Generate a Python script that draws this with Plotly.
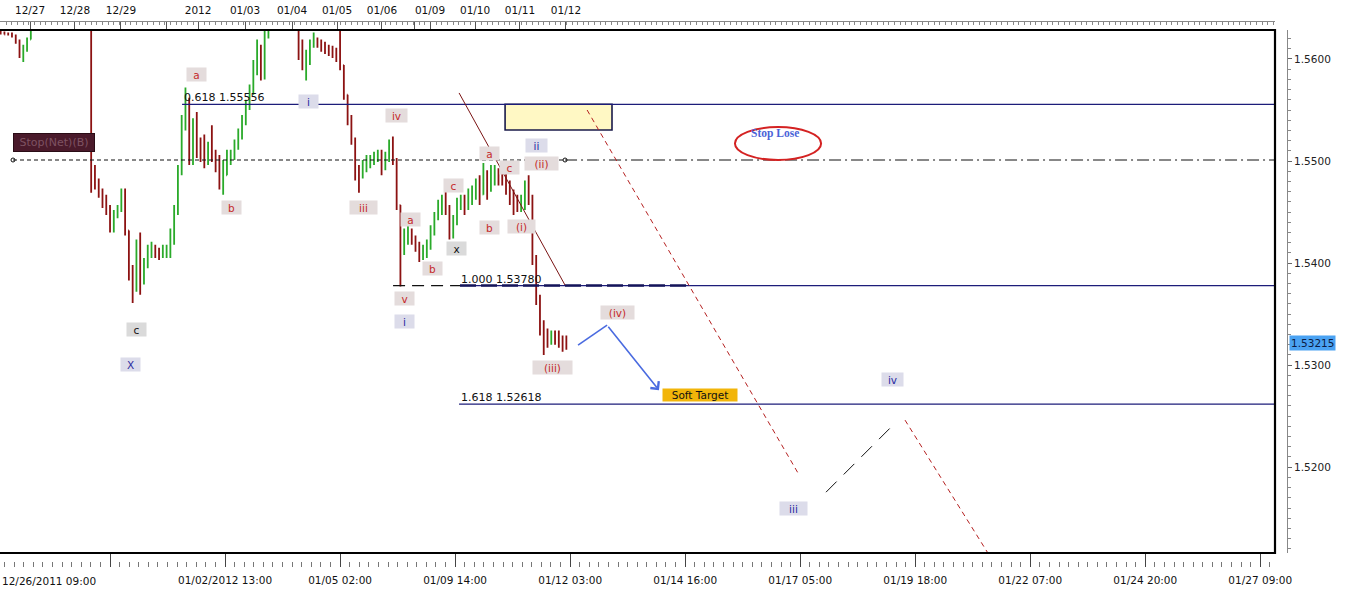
import plotly.graph_objects as go

# ---------------- price data (GBP/USD, 2-hour bars, hours since 12/26/2011 09:00, weekends skipped) ----------------
bar_hours = list(range(3, 305, 2))

highs = [
    1.5628, 1.5627, 1.5626, 1.5626, 1.5624, 1.5619, 1.5614, 1.5621, 1.5633, 1.5640,
    1.5645, 1.5650, 1.5655, 1.5660, 1.5652, 1.5650, 1.5658, 1.5662, 1.5656, 1.5650,
    1.5648, 1.5652, 1.5654, 1.5646, 1.5640, 1.5496, 1.5483, 1.5473, 1.5467, 1.5457,
    1.5452, 1.5457, 1.5473, 1.5473, 1.5432, 1.5398, 1.5423, 1.5430, 1.5405, 1.5418,
    1.5421, 1.5418, 1.5415, 1.5418, 1.5418, 1.5434, 1.5457, 1.5496, 1.5545, 1.5572,
    1.5562, 1.5542, 1.5548, 1.5523, 1.5526, 1.5519, 1.5535, 1.5511, 1.5506, 1.5501,
    1.5511, 1.5511, 1.5521, 1.5532, 1.5545, 1.5560, 1.5575, 1.5599, 1.5619, 1.5614,
    1.5628, 1.5640, 1.5652, 1.5662, 1.5672, 1.5668, 1.5660, 1.5652, 1.5645, 1.5638,
    1.5619, 1.5609, 1.5619, 1.5626, 1.5621, 1.5619, 1.5617, 1.5614, 1.5613, 1.5611,
    1.5628, 1.5594, 1.5565, 1.5545, 1.5523, 1.5496, 1.5501, 1.5506, 1.5506, 1.5509,
    1.5511, 1.5511, 1.5509, 1.5521, 1.5524, 1.5503, 1.5457, 1.5434, 1.5437, 1.5434,
    1.5427, 1.5421, 1.5418, 1.5423, 1.5437, 1.5450, 1.5462, 1.5467, 1.5470, 1.5457,
    1.5447, 1.5464, 1.5467, 1.5467, 1.5473, 1.5476, 1.5483, 1.5486, 1.5498, 1.5491,
    1.5496, 1.5496, 1.5493, 1.5491, 1.5489, 1.5481, 1.5472, 1.5467, 1.5467, 1.5481,
    1.5486, 1.5467, 1.5408, 1.5369, 1.5344, 1.5336, 1.5334, 1.5334, 1.5334, 1.5329,
    1.5329,
]
lows = [
    1.5624, 1.5624, 1.5623, 1.5621, 1.5615, 1.5601, 1.5597, 1.5607, 1.5619, 1.5628,
    1.5632, 1.5638, 1.5640, 1.5645, 1.5638, 1.5636, 1.5642, 1.5648, 1.5640, 1.5636,
    1.5634, 1.5638, 1.5640, 1.5634, 1.5469, 1.5472, 1.5464, 1.5454, 1.5447, 1.5430,
    1.5430, 1.5444, 1.5450, 1.5427, 1.5383, 1.5361, 1.5372, 1.5369, 1.5379, 1.5395,
    1.5405, 1.5405, 1.5403, 1.5405, 1.5405, 1.5405, 1.5418, 1.5447, 1.5486, 1.5530,
    1.5496, 1.5496, 1.5503, 1.5499, 1.5493, 1.5496, 1.5499, 1.5489, 1.5472, 1.5467,
    1.5486, 1.5496, 1.5501, 1.5511, 1.5521, 1.5535, 1.5550, 1.5565, 1.5584, 1.5579,
    1.5580, 1.5620, 1.5632, 1.5644, 1.5652, 1.5650, 1.5642, 1.5636, 1.5630, 1.5599,
    1.5589, 1.5579, 1.5594, 1.5611, 1.5611, 1.5607, 1.5605, 1.5603, 1.5601, 1.5597,
    1.5589, 1.5560, 1.5535, 1.5516, 1.5481, 1.5469, 1.5483, 1.5489, 1.5493, 1.5496,
    1.5499, 1.5486, 1.5491, 1.5499, 1.5496, 1.5452, 1.5377, 1.5408, 1.5418, 1.5418,
    1.5411, 1.5401, 1.5403, 1.5405, 1.5413, 1.5427, 1.5442, 1.5447, 1.5447, 1.5423,
    1.5424, 1.5437, 1.5452, 1.5447, 1.5452, 1.5457, 1.5462, 1.5457, 1.5467, 1.5462,
    1.5470, 1.5476, 1.5476, 1.5476, 1.5467, 1.5457, 1.5447, 1.5450, 1.5450, 1.5452,
    1.5457, 1.5398, 1.5359, 1.5329, 1.5310, 1.5317, 1.5320, 1.5320, 1.5317, 1.5313,
    1.5315,
]
closes = [
    1.5625, 1.5624, 1.5624, 1.5623, 1.5617, 1.5604, 1.5609, 1.5619, 1.5631, 1.5636,
    1.5642, 1.5646, 1.5652, 1.5648, 1.5644, 1.5647, 1.5655, 1.5650, 1.5645, 1.5640,
    1.5644, 1.5648, 1.5642, 1.5638, 1.5481, 1.5479, 1.5470, 1.5457, 1.5450, 1.5434,
    1.5447, 1.5452, 1.5467, 1.5432, 1.5393, 1.5379, 1.5415, 1.5383, 1.5401, 1.5413,
    1.5413, 1.5411, 1.5408, 1.5413, 1.5413, 1.5424, 1.5450, 1.5489, 1.5535, 1.5555,
    1.5506, 1.5526, 1.5511, 1.5506, 1.5501, 1.5511, 1.5506, 1.5496, 1.5479, 1.5486,
    1.5503, 1.5506, 1.5516, 1.5526, 1.5540, 1.5555, 1.5570, 1.5589, 1.5604, 1.5584,
    1.5624, 1.5636, 1.5648, 1.5658, 1.5665, 1.5655, 1.5648, 1.5640, 1.5634, 1.5604,
    1.5594, 1.5599, 1.5614, 1.5619, 1.5614, 1.5611, 1.5609, 1.5607, 1.5604, 1.5601,
    1.5594, 1.5565, 1.5542, 1.5521, 1.5489, 1.5486, 1.5493, 1.5496, 1.5501, 1.5503,
    1.5504, 1.5496, 1.5503, 1.5511, 1.5501, 1.5457, 1.5423, 1.5427, 1.5430, 1.5423,
    1.5418, 1.5408, 1.5411, 1.5418, 1.5432, 1.5444, 1.5457, 1.5462, 1.5452, 1.5432,
    1.5442, 1.5457, 1.5462, 1.5457, 1.5467, 1.5470, 1.5473, 1.5467, 1.5481, 1.5476,
    1.5486, 1.5486, 1.5483, 1.5481, 1.5473, 1.5464, 1.5457, 1.5457, 1.5460, 1.5472,
    1.5464, 1.5403, 1.5364, 1.5339, 1.5325, 1.5325, 1.5329, 1.5327, 1.5325, 1.5323,
    1.53215,
]
first_open = 1.5626
opens = [first_open] + closes[:-1]
last_price = 1.53215

# ---------------- axis labels ----------------
bottom_tick_hours = [0, 61, 122, 183, 244, 305, 366, 427, 488, 549, 610, 671]
bottom_tick_labels = ["", "", "01/02/2012 13:00", "01/05 02:00", "01/09 14:00", "01/12 03:00",
                      "01/14 16:00", "01/17 05:00", "01/19 18:00", "01/22 07:00", "01/24 20:00",
                      "01/27 09:00"]
first_bottom_label = "12/26/2011 09:00"

top_tick_hours = [18.6, 42.4, 66.8, 90.7, 107.7, 132.6, 157.5, 181.4, 205.2, 222.7, 230.7, 254.6, 278.4, 302.8]
top_tick_labels = ["12/27", "12/28", "12/29", "", "2012", "01/03", "01/04", "01/05", "01/06", "",
                   "01/09", "01/10", "01/11", "01/12"]
marker_hours = [18.6, 42.4, 66.8, 90.7, 106.6, 108.7, 132.6, 157.5, 181.4, 205.2, 222.7, 230.7,
                254.6, 278.4, 302.8]

# ---------------- analysis drawings (hours, prices) ----------------
fib_levels = [1.55556, 1.53780, 1.52618]
fib_texts = ["0.618 1.55556", "1.000 1.53780", "1.618 1.52618"]
fib_start_hours = [99.2, 246.6, 246.1]
fib_label_hours = [99.2, 246.1, 246.1]
fib1_dash_hours = [211.1, 246.6, 367.6]

stop_level = 1.5501
stop_start_hour = 9.55
stop_break_hour = 302.3

trend_hours = [246.1, 302.3]
trend_prices = [1.55667, 1.53784]
proj1_hours = [314.0, 425.9]
proj1_prices = [1.5550, 1.51941]
proj2_hours = [482.6, 526.6]
proj2_prices = [1.52461, 1.51157]
proj3_hours = [440.7, 475.7]
proj3_prices = [1.51755, 1.52402]
blue_hours = [309.2, 324.6, 352.1]
blue_prices = [1.53196, 1.53392, 1.52755]

box_hours = [270.5, 327.2]
box_prices = [1.55304, 1.55556]
ellipse_hours = [392.4, 438.1]
ellipse_prices = [1.5501, 1.55333]

wave_text = ["a", "b", "iv", "iii", "a", "b", "c", "a", "c", "b", "(ii)", "(i)", "v", "(iv)", "(iii)",
             "i", "ii", "i", "X", "iv", "iii", "c", "x"]
wave_hour = [106.6, 125.2, 212.7, 195.2, 220.1, 231.8, 242.9, 262.5, 273.1, 262.5, 289.6, 279.0, 216.9, 329.9, 295.4,
             166.5, 286.9, 217.4, 72.1, 476.2, 423.7, 75.3, 245.0]
wave_price = [1.55843, 1.54549, 1.55451, 1.54549, 1.54431, 1.53951, 1.54765, 1.55078, 1.54941, 1.54353, 1.54971,
              1.54363, 1.53657, 1.53520, 1.52980, 1.55588, 1.55157, 1.53431, 1.53010, 1.52863, 1.51598, 1.53353, 1.54147]
wave_kind = ["r"] * 15 + ["b"] * 6 + ["k"] * 2

# ---------------- geometry ----------------
W, H = 1345, 592
MR = 55
PW = W - MR
X_RANGE = [2.65, 678.8]
Y_RANGE = [1.51159, 1.56284]
x_dom = [0, 1275 / PW]
y_dom = [(H - 553) / H, (H - 30) / H]
FONT = "DejaVu Sans"

fig = go.Figure()

fig.add_trace(go.Ohlc(
    x=bar_hours, open=opens, high=highs, low=lows, close=closes,
    increasing=dict(line=dict(color="#2aaa2a", width=1.8)),
    decreasing=dict(line=dict(color="#8c1212", width=1.8)),
    tickwidth=0.2, showlegend=False, hoverinfo="skip"))

def line(xs, ys, color, width=1, dash="solid", mode="lines", **kw):
    fig.add_trace(go.Scatter(x=xs, y=ys, mode=mode, line=dict(color=color, width=width, dash=dash),
                             showlegend=False, hoverinfo="skip", **kw))

# fib levels
for lvl, xs in zip(fib_levels, fib_start_hours):
    line([xs, X_RANGE[1] + 5], [lvl, lvl], "#1c1c7a", 1.2)
line([fib1_dash_hours[0], fib1_dash_hours[1]], [fib_levels[1]] * 2, "#111111", 1.2, "12px,7px")
line([fib1_dash_hours[1], fib1_dash_hours[2]], [fib_levels[1]] * 2, "#15155a", 2.6, "16px,5px")

# stop level
line([stop_start_hour, stop_break_hour], [stop_level] * 2, "#111111", 1, "4px,3px", mode="lines+markers",
     marker=dict(symbol="circle-open", size=4, color="#111111"))
line([stop_break_hour, X_RANGE[1] + 5], [stop_level] * 2, "#111111", 1, "12px,4px,2px,4px")

# trend / projection lines
line(trend_hours, trend_prices, "#7a1414", 1)
line(proj1_hours, proj1_prices, "#b52020", 1, "5px,4px")
line(proj2_hours, proj2_prices, "#b52020", 1, "5px,4px")
line(proj3_hours, proj3_prices, "#111111", 1, "15px,10px")
line(blue_hours[:2], blue_prices[:2], "#4a6be0", 1.6)

# top ruler triangles
fig.add_trace(go.Scatter(x=marker_hours, y=[1.56373] * len(marker_hours), xaxis="x2", mode="markers",
                         marker=dict(symbol="triangle-down", size=9, color="#d4a61a",
                                     line=dict(color="#9c7a10", width=0.6)),
                         cliponaxis=False, showlegend=False, hoverinfo="skip"))

shapes = [
    dict(type="rect", xref="x", yref="y", x0=box_hours[0], x1=box_hours[1], y0=box_prices[0], y1=box_prices[1],
         fillcolor="#fff8c4", line=dict(color="#1a1a4a", width=1.6), layer="below"),
    dict(type="circle", xref="x", yref="y", x0=ellipse_hours[0], x1=ellipse_hours[1],
         y0=ellipse_prices[0], y1=ellipse_prices[1], line=dict(color="#d42222", width=2)),
    dict(type="rect", xref="paper", yref="paper", x0=-0.003, x1=x_dom[1], y0=y_dom[0], y1=y_dom[1],
         line=dict(color="#000000", width=2.2)),
]

annotations = []
for t, hx, lvl in zip(fib_texts, fib_label_hours, fib_levels):
    annotations.append(dict(x=hx, y=lvl, xref="x", yref="y", text=t, showarrow=False, xanchor="left",
                            yanchor="bottom", yshift=-2, font=dict(family=FONT, size=11, color="#111111")))

kind_style = {"r": ("#c42a2a", "#e4dcdc"), "b": ("#2a2aa0", "#dcdcea"), "k": ("#111111", "#dadada")}
for t, hx, pr, k in zip(wave_text, wave_hour, wave_price, wave_kind):
    fc, bg = kind_style[k]
    annotations.append(dict(x=hx, y=pr, xref="x", yref="y", text=t, showarrow=False,
                            font=dict(family=FONT, size=10.5, color=fc), bgcolor=bg,
                            width=max(19, 6 * len(t) + 9), height=13, borderpad=0))

annotations += [
    dict(x=blue_hours[2], y=blue_prices[2], ax=blue_hours[1], ay=blue_prices[1], xref="x", yref="y",
         axref="x", ayref="y", showarrow=True, arrowhead=4, arrowsize=1.3, arrowwidth=1.6,
         arrowcolor="#4a6be0", text=""),
    dict(x=373.9, y=1.52706, xref="x", yref="y", text="Soft Target", showarrow=False,
         font=dict(family=FONT, size=10.5, color="#111111"), bgcolor="#f2b50a", width=74, height=12,
         borderpad=0),
    dict(x=413.7, y=1.55265, xref="x", yref="y", text="<b>Stop Lose</b>", showarrow=False,
         font=dict(family="Liberation Serif", size=11.5, color="#4a62d8")),
    dict(x=stop_start_hour, y=1.55181, xref="x", yref="y", xanchor="left", text="Stop(Net)(B)",
         showarrow=False, font=dict(family=FONT, size=11, color="#7e5262"), bgcolor="#4a1a2b",
         bordercolor="#2a0c16", borderwidth=1, width=80, height=17, borderpad=0),
    dict(x=1289 / PW, y=last_price, xref="paper", yref="y", xanchor="left", text=f"{last_price:.5f}",
         showarrow=False, font=dict(family=FONT, size=10.5, color="#0c1c44"), bgcolor="#4aa2f2",
         borderpad=1),
    dict(x=0, y=(H - 581) / H, xref="paper", yref="paper", xanchor="left", yanchor="middle",
         text=first_bottom_label, showarrow=False, font=dict(family=FONT, size=10.5, color="#111111")),
]

fig.update_layout(
    width=W, height=H, margin=dict(l=0, r=MR, t=0, b=0),
    plot_bgcolor="#ffffff", paper_bgcolor="#ffffff", showlegend=False, hovermode=False,
    shapes=shapes, annotations=annotations,
    xaxis=dict(domain=x_dom, range=X_RANGE, anchor="free", position=(H - 567) / H,
               showgrid=False, zeroline=False, showline=False,
               ticks="inside", ticklen=15, tickcolor="#444444", tickvals=bottom_tick_hours,
               ticktext=bottom_tick_labels, tickfont=dict(family=FONT, size=10.5, color="#111111"),
               ticklabelstandoff=5,
               minor=dict(ticks="inside", ticklen=5, dtick=61 / 12, tick0=0, tickcolor="#777777", showgrid=False),
               rangeslider=dict(visible=False), fixedrange=True),
    xaxis2=dict(domain=x_dom, range=X_RANGE, overlaying="x", side="top", anchor="free",
                position=(H - 21) / H, showgrid=False, zeroline=False, showline=True, linecolor="#888888",
                linewidth=1, ticks="inside", ticklen=7, tickcolor="#555555", tickvals=top_tick_hours,
                ticktext=top_tick_labels, tickfont=dict(family=FONT, size=10.5, color="#111111"),
                ticklabelstandoff=3,
                minor=dict(ticks="inside", ticklen=3, dtick=3, tick0=0, tickcolor="#888888", showgrid=False),
                fixedrange=True),
    yaxis=dict(domain=y_dom, range=Y_RANGE, side="right", anchor="free", position=1287 / PW,
               showgrid=False, zeroline=False, showline=True, linecolor="#888888", linewidth=1,
               ticks="outside", ticklen=4, tickcolor="#666666", dtick=0.01, tick0=1.5, tickformat=".4f",
               tickfont=dict(family=FONT, size=10.5, color="#222222"), ticklabelstandoff=0,
               minor=dict(ticks="outside", ticklen=3, dtick=0.001, tick0=1.5, tickcolor="#888888", showgrid=False),
               fixedrange=True),
)

fig.write_html("out.html", config={"displayModeBar": False},
               post_script="document.body.style.margin='0';document.body.style.overflow='hidden';")
